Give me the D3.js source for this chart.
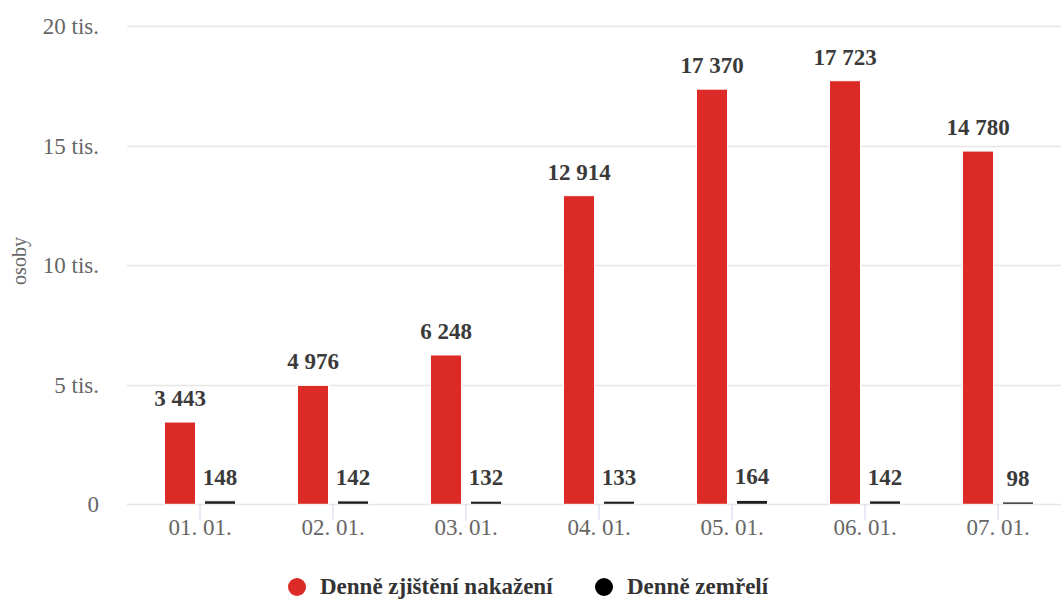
<!DOCTYPE html>
<html>
<head>
<meta charset="utf-8">
<script src="https://cdn.jsdelivr.net/npm/d3@7"></script>
<style>
  body { margin: 0; background: #fff; }
  svg { font-family: "Liberation Serif", "Times New Roman", serif; }
</style>
</head>
<body>
<svg width="1061" height="599"></svg>
<script>
// data
const categories = ["01. 01.", "02. 01.", "03. 01.", "04. 01.", "05. 01.", "06. 01.", "07. 01."];
const infected = [3443, 4976, 6248, 12914, 17370, 17723, 14780];
const deaths = [148, 142, 132, 133, 164, 142, 98];
const seriesNames = ["Denně zjištění nakažení", "Denně zemřelí"];
const seriesColors = ["#dc2b26", "#1e1e1e"];
const yTicks = [0, 5000, 10000, 15000, 20000];
const yTickLabels = ["0", "5 tis.", "10 tis.", "15 tis.", "20 tis."];

const svg = d3.select("svg");
const cz = d3.formatLocale({ decimal: ",", thousands: " ", grouping: [3], currency: ["", " Kč"] });
const fmt = cz.format(",d");

// scales
const x = d3.scaleBand().domain(categories).range([133.5, 1064.5]);
const xSub = d3.scaleBand().domain(seriesNames).range([31, 102]).paddingInner(0.225);
const y = d3.scaleLinear().domain([0, 20000]).range([504.3, 26.3]);

// grid lines + y labels
const yAxis = d3.axisLeft(y).tickValues(yTicks).tickSize(0)
  .tickFormat((d, i) => yTickLabels[i]);
const yG = svg.append("g").attr("class", "yAxis").attr("transform", "translate(99,0)").call(yAxis);
yG.attr("font-family", null).attr("font-size", null);
yG.select(".domain").remove();
yG.selectAll("text").attr("x", 0).attr("dy", "0.32em")
  .attr("font-size", "23px").attr("fill", "#666");

svg.append("g").selectAll("line").data(yTicks).enter().append("line")
  .attr("x1", 127).attr("x2", 1061)
  .attr("y1", d => Math.round(y(d)) + 0.5).attr("y2", d => Math.round(y(d)) + 0.5)
  .attr("stroke", "#e6e6e6").attr("stroke-width", 1.5);

// axis title
svg.append("text").attr("transform", "translate(26,261) rotate(-90)")
  .attr("text-anchor", "middle").attr("font-size", "20px").attr("fill", "#666").text("osoby");

// x axis
const xAxis = d3.axisBottom(x).tickSize(16).tickSizeOuter(0).tickPadding(1);
const xG = svg.append("g").attr("class", "xAxis").attr("transform", "translate(0,504.3)").call(xAxis);
xG.attr("font-family", null).attr("font-size", null);
xG.select(".domain").remove();
xG.selectAll("line").attr("stroke", "#ccd6eb");
xG.selectAll("text").attr("font-size", "23px").attr("fill", "#666")
  .attr("y", 14).attr("dy", "0.71em");

// bars
const rows = categories.map((c, i) => ({ cat: c, vals: [infected[i], deaths[i]] }));
const groups = svg.append("g").selectAll("g").data(rows).enter().append("g")
  .attr("transform", d => "translate(" + x(d.cat) + ",0)");

groups.selectAll("rect").data(d => d.vals.map((v, k) => ({ v: v, k: k }))).enter().append("rect")
  .attr("x", d => xSub(seriesNames[d.k]))
  .attr("width", xSub.bandwidth())
  .attr("y", d => y(d.v))
  .attr("height", d => y(0) - y(d.v))
  .attr("fill", d => seriesColors[d.k])
  .attr("stroke", "#fff").attr("stroke-width", 1);

groups.selectAll("text.lbl").data(d => d.vals.map((v, k) => ({ v: v, k: k }))).enter().append("text")
  .attr("class", "lbl")
  .attr("x", d => xSub(seriesNames[d.k]) + xSub.bandwidth() / 2)
  .attr("y", d => Math.min(y(d.v), y(0) - 2) - 16)
  .attr("text-anchor", "middle")
  .attr("font-size", "23px").attr("font-weight", "bold").attr("fill", "#3a3a3a")
  .attr("stroke", "#fff").attr("stroke-width", 2).attr("paint-order", "stroke")
  .text(d => fmt(d.v));

// legend
const legendX = [297, 604];
const legend = svg.append("g").selectAll("g").data(seriesNames).enter().append("g")
  .attr("transform", (d, i) => "translate(" + legendX[i] + ",587)");
legend.append("circle").attr("r", 9).attr("fill", (d, i) => i === 1 ? "#000" : seriesColors[i]);
legend.append("text").attr("x", 23).attr("dy", "0.32em")
  .attr("font-size", "23px").attr("font-weight", "bold").attr("fill", "#333").text(d => d);
</script>
</body>
</html>
